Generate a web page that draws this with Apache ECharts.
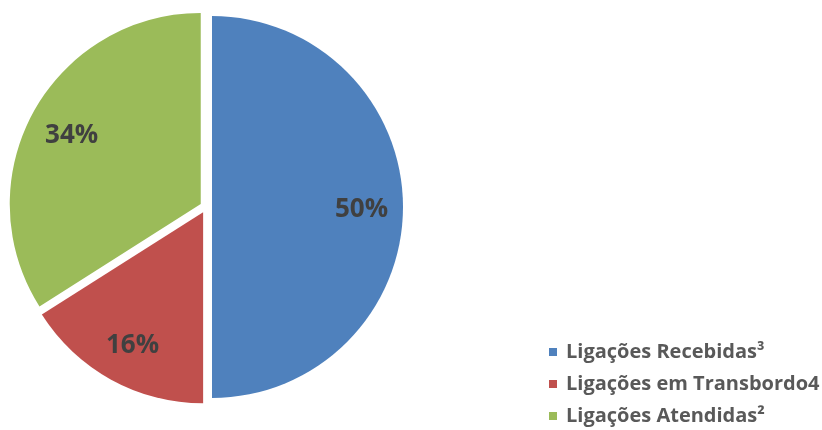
<!DOCTYPE html>
<html>
<head>
<meta charset="utf-8">
<script src="https://cdn.jsdelivr.net/npm/echarts@6/dist/echarts.min.js"></script>
<style>
  html, body { margin: 0; padding: 0; background: #fff; }
  #main { width: 822px; height: 430px; }
</style>
</head>
<body>
<div id="main"></div>
<script>
// dados do gráfico
var categories = ['Ligações Recebidas³', 'Ligações em Transbordo4', 'Ligações Atendidas²'];
var values = [50, 16, 34];
var colors = ['#4F81BD', '#C0504D', '#9BBB59'];

var chart = echarts.init(document.getElementById('main'));

var pieData = categories.map(function (name, i) {
  return { name: name, value: values[i], selected: true, itemStyle: { color: colors[i] } };
});

// série de rótulos (transparente) só para posicionar os percentuais mais perto da borda
var labelData = categories.map(function (name, i) {
  return { name: name, value: values[i], selected: true, itemStyle: { color: 'rgba(0,0,0,0)' } };
});

var option = {
  animation: false,
  legend: {
    orient: 'vertical',
    left: 549,
    top: 340,
    height: 120,
    padding: 0,
    icon: 'rect',
    itemWidth: 8,
    itemHeight: 8,
    itemGap: 8,
    selectedMode: false,
    textStyle: {
      fontFamily: 'Open Sans',
      fontWeight: 'bold',
      fontSize: 20,
      color: '#595959',
      lineHeight: 24,
      padding: [0, 0, 0, 4]
    },
    data: categories
  },
  series: [{
    type: 'pie',
    center: [206, 207],
    radius: [0, 191],
    startAngle: 90,
    clockwise: true,
    selectedMode: 'multiple',
    selectedOffset: 6,
    silent: true,
    label: { show: false },
    labelLine: { show: false },
    select: { itemStyle: { borderWidth: 0 } },
    data: pieData
  }, {
    type: 'pie',
    center: [207, 210],
    radius: [100, 191],
    startAngle: 90,
    clockwise: true,
    selectedMode: 'multiple',
    selectedOffset: 6,
    silent: true,
    label: {
      show: true,
      position: 'inside',
      formatter: '{d}%',
      fontFamily: 'Open Sans',
      fontWeight: 'bold',
      fontSize: 26,
      color: '#404040'
    },
    labelLine: { show: false },
    data: labelData
  }]
};

chart.setOption(option);
</script>
</body>
</html>
